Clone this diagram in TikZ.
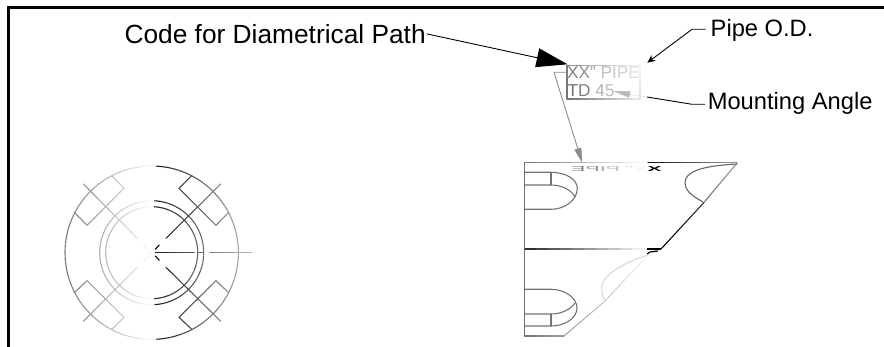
\documentclass[tikz,border=0pt]{standalone}
\usepackage{fontspec}
\setmainfont{Liberation Sans}
\usetikzlibrary{arrows.meta}
\tikzset{
  ln/.style={line width=1.1pt,line cap=round},
  lbl/.style={inner ysep=1pt,anchor=base west,text=black},
  boxtxt/.style={inner sep=0pt,anchor=base west,font=\fontsize{17.2}{17.2}\selectfont},
  lead/.style={line width=0.9pt,black},
}
\newcommand\gseg[6]{\foreach \i in {1,...,10}{%
  \pgfmathsetmacro\ta{(\i-1)/10}\pgfmathsetmacro\tb{\i/10}%
  \pgfmathsetmacro\dd{#5+(#6-#5)*(\i-.5)/10}%
  \draw[ln,draw=black!\dd] ({#1+(#3-#1)*\ta},{#2+(#4-#2)*\ta}) -- ({#1+(#3-#1)*\tb},{#2+(#4-#2)*\tb});}}
\newcommand\cseg[4]{%
  \pgfmathsetmacro\da{#1>=155?90-.65*(#1-155):(155-#1)*.6}%
  \pgfmathsetmacro\db{#3>=155?90-.65*(#3-155):(155-#3)*.6}%
  \gseg{#1}{#2}{#3}{#4}{\da}{\db}}
\newcommand\ringc[1]{\foreach \a in {0,3,...,357}{%
  \pgfmathsetmacro\mx{151.7+#1*cos(\a+1.5)}%
  \pgfmathsetmacro\dm{\mx>=155?90-.65*(\mx-155):(155-\mx)*.6}%
  \draw[line width=1.1pt,draw=black!\dm] ({151.7+#1*cos(\a)},{252.7+#1*sin(\a)}) arc[start angle=\a,delta angle=3,radius=#1];}}
\begin{document}
\begin{tikzpicture}[x=1pt,y=-1pt]
\useasboundingbox (0,0) rectangle (884,347);
% frame
\draw[line width=3pt,black] (8.5,347) -- (8.5,7.5) -- (884,7.5);
% front view
\ringc{86.7}\ringc{52}\ringc{46}
\cseg{191.7}{175.7}{179}{188.3}\cseg{179}{188.3}{216}{225.3}\cseg{216}{225.3}{228.7}{212.3}
\cseg{216}{280.7}{228.7}{292.7}\cseg{216}{280.7}{179}{317.3}\cseg{179}{317.3}{191.7}{329.3}
\cseg{111.7}{175.7}{124}{188.3}\cseg{124}{188.3}{87}{225.3}\cseg{87}{225.3}{74.3}{212.3}
\cseg{87}{280.7}{74.3}{292.7}\cseg{87}{280.7}{124}{317.3}\cseg{124}{317.3}{111.7}{329.3}
\cseg{166}{238.3}{220.7}{184}\cseg{166}{267.3}{220.7}{321.3}
\cseg{83.3}{184}{137.3}{238.3}\cseg{137.3}{267.3}{83.3}{321.3}
\cseg{159.3}{245}{155.3}{249.3}\cseg{155.3}{256}{159.3}{260.3}
\cseg{143.7}{245.3}{154}{256}\cseg{143.3}{261}{154}{250}
\cseg{155.5}{252.7}{194.3}{252.7}\cseg{198}{252.7}{203}{252.7}\cseg{210}{252.7}{251.7}{252.7}
% side view
\gseg{524.7}{162.7}{645}{162.7}{55}{2}
\gseg{648}{162.7}{737}{162.7}{95}{40}
\gseg{524.7}{162.7}{524.7}{336}{55}{55}
\gseg{524.7}{336}{564}{336}{55}{38}
\gseg{564}{336}{605}{301}{38}{20}
\gseg{605}{301}{648}{255}{20}{4}
\gseg{525}{249}{645}{249}{85}{2}
\draw[line width=1.3pt,black] (647,249) -- (661,249);
\draw[line width=1.2pt,black] (647,254) -- (650,252) -- (658,251);
\gseg{737}{163}{703.5}{203}{40}{55}
\gseg{703.5}{203}{661}{249}{80}{100}
\draw[ln,black!60] (737,164) .. controls (700,166) and (685,172) .. (685,183) .. controls (685,192) and (696,198) .. (703,202);
\draw[ln,black!15] (648,255) .. controls (625,262) and (602,275) .. (601.7,287) .. controls (601.7,293) and (603,298) .. (605,301);
% upper hole
\draw[ln,black!55] (525,172.3) -- (551,172.3) .. controls (567,172.3) and (577.3,180) .. (577.3,188.3) .. controls (577.3,200) and (565,209.3) .. (551,209.3) -- (525,209.3);
\draw[ln,black!55] (525,185) -- (551,185) .. controls (562,185) and (571,190) .. (575,196.7);
\draw[ln,black!55] (551,172.3) -- (551,185);
% lower hole
\draw[ln,black!55] (525,289.3) -- (551,289.3) .. controls (565,289.3) and (577,298) .. (577,308) .. controls (577,318) and (565,326) .. (551,326) -- (525,326);
\draw[ln,black!55] (525,314) -- (551,314) .. controls (562,314) and (571,309) .. (575,303);
\draw[ln,black!55] (551,314) -- (551,326);
% flattened mirrored text
\node[name=mirror,transform shape,xscale=-1.25,yscale=.42,inner sep=0pt,font=\fontsize{17.2}{17.2}\selectfont] at (616.5,168.6) {\textcolor{black}{\bfseries X}\textcolor{black!6}{X}\textcolor{black!14}{"}\ \textcolor{black!25}{P}\textcolor{black!32}{I}\textcolor{black!42}{P}\textcolor{black!50}{E}};
% label box
\gseg{567}{65.5}{640}{65.5}{45}{3}
\gseg{567}{99}{640}{99}{55}{8}
\gseg{567}{65.5}{567}{99}{50}{55}
\gseg{640}{65.5}{640}{99}{4}{12}
\node[boxtxt,name=xx] at (567,79) {\textcolor{black!50}{X}\textcolor{black!44}{X}\textcolor{black!34}{"}\ \textcolor{black!26}{P}\textcolor{black!22}{I}\textcolor{black!18}{P}\textcolor{black!13}{E}};
\node[boxtxt,name=td] at (567.5,96.7) {\textcolor{black!55}{T}\textcolor{black!50}{D}\ \textcolor{black!30}{4}\textcolor{black!26}{5}};
% labels
\node[lbl,inner xsep=1pt,name=code,font=\fontsize{26.3}{26.3}\selectfont] at (123.4,43.3) {Code for Diametrical Path};
\node[lbl,inner xsep=5pt,name=pipe,font=\fontsize{23.7}{23.7}\selectfont] at (705.5,36.7) {Pipe O.D.};
\node[lbl,inner xsep=2.5pt,name=mount,font=\fontsize{23.7}{23.7}\selectfont] at (705.1,110) {Mounting Angle};
% connectors
\coordinate (tipcode) at (567.5,64.3);
\coordinate (pipeb) at (692,29.3);
\coordinate (tippipe) at (647.3,62.7);
\coordinate (mountb) at (692,104.3);
\coordinate (mountc) at (647,97);
\coordinate (mountd) at (631,94.7);
\coordinate (tipmount) at (613,91);
\coordinate (boxb) at (554,72.3);
\coordinate (tipbox) at (582.3,163);
\draw[lead,-{Triangle[length=31pt,width=19pt]}] (code.east) -- (tipcode);
\draw[lead,-{Stealth[length=8pt,width=7pt]}] (pipeb -| pipe.west) -- (pipeb) -- (tippipe);
\draw[lead] (mountb -| mount.west) -- (mountb) -- (mountc);
\draw[line width=.6pt,black!12] (mountc) -- (mountd);
\draw[line width=.6pt,black!28,-{Triangle[length=17pt,width=6.5pt]}] (mountd) -- (tipmount);
\draw[line width=.9pt,black!45,-{Triangle[length=15pt,width=7pt]}] (567,72.3) -- (boxb) -- (tipbox);
\end{tikzpicture}
\end{document}
